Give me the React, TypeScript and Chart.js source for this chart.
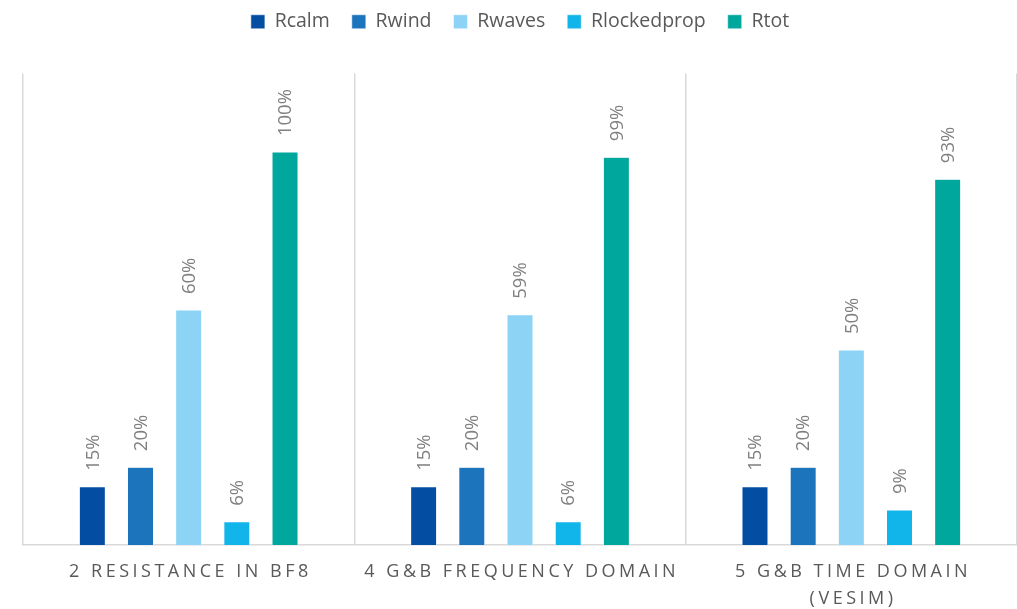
import React, { useEffect, useRef } from "react";
import { Chart, registerables } from "chart.js";

Chart.register(...registerables);

const categories = ["2 RESISTANCE IN BF8", "4 G&B FREQUENCY DOMAIN", "5 G&B TIME DOMAIN (VESIM)"];
const categoryLines = [["2 RESISTANCE IN BF8"], ["4 G&B FREQUENCY DOMAIN"], ["5 G&B TIME DOMAIN", "(VESIM)"]];
const seriesNames = ["Rcalm", "Rwind", "Rwaves", "Rlockedprop", "Rtot"];
const seriesColors = ["#034EA2", "#1C75BC", "#8DD3F5", "#12B5EA", "#00A79D"];
const rcalm = [14.8, 14.8, 14.8];
const rwind = [19.8, 19.8, 19.8];
const rwaves = [59.8, 58.6, 49.6];
const rlockedprop = [5.9, 5.9, 8.9];
const rtot = [100, 98.7, 93.1];
const seriesValues = [rcalm, rwind, rwaves, rlockedprop, rtot];

const FONT = "'Open Sans', 'DejaVu Sans', sans-serif";

const legendGapPlugin = {
  id: "legendGap",
  beforeInit(chart: any) {
    const legend = chart.legend;
    if (!legend) return;
    const orig = legend.fit;
    legend.fit = function () {
      orig.call(this);
      this.height += 32;
    };
  },
};

const valueLabelPlugin = {
  id: "valueLabels",
  afterDatasetsDraw(chart: any) {
    const ctx = chart.ctx;
    chart.data.datasets.forEach((ds: any, i: number) => {
      const meta = chart.getDatasetMeta(i);
      meta.data.forEach((bar: any, j: number) => {
        const v = ds.data[j];
        ctx.save();
        ctx.translate(bar.x, bar.y - 16);
        ctx.rotate(-Math.PI / 2);
        ctx.font = `18.5px ${FONT}`;
        ctx.fillStyle = "#808080";
        ctx.textAlign = "left";
        ctx.textBaseline = "middle";
        ctx.fillText(Math.round(v) + "%", 0, 1);
        ctx.restore();
      });
    });
  },
};

const xLabelPlugin = {
  id: "xLabels",
  afterDraw(chart: any) {
    const ctx = chart.ctx;
    const xs = chart.scales.x;
    const bottom = chart.chartArea.bottom;
    ctx.save();
    ctx.font = `18px ${FONT}`;
    ctx.fillStyle = "#595959";
    ctx.textAlign = "center";
    ctx.textBaseline = "middle";
    (ctx as any).letterSpacing = "3.5px";
    categoryLines.forEach((lines, i) => {
      const x = xs.getPixelForValue(i) + 1.75;
      lines.forEach((line, k) => {
        ctx.fillText(line, x, bottom + 27 + k * 27);
      });
    });
    ctx.restore();
  },
};

export default function App() {
  const ref = useRef<HTMLCanvasElement>(null);
  useEffect(() => {
    document.body.style.margin = "0";
    const chart = new Chart(ref.current!, {
      type: "bar",
      data: {
        labels: categories,
        datasets: seriesNames.map((name, i) => ({
          label: name,
          data: seriesValues[i],
          backgroundColor: seriesColors[i],
          borderColor: "#ffffff",
          borderWidth: 0.5,
          categoryPercentage: 0.727,
          barPercentage: 0.54,
        })),
      },
      options: {
        animation: false,
        responsive: false,
        maintainAspectRatio: false,
        layout: { padding: { left: 23, right: 0, top: -10, bottom: 64 } },
        plugins: {
          legend: {
            position: "top",
            labels: {
              boxWidth: 14,
              boxHeight: 14,
              padding: 22,
              color: "#595959",
              font: { family: FONT, size: 19.5 },
            },
          },
          tooltip: { enabled: false },
        },
        scales: {
          x: {
            ticks: { display: false },
            grid: { display: true, offset: true, color: "#d9d9d9", lineWidth: 1.5, drawTicks: false },
            border: { display: true, color: "#d9d9d9", width: 1.5 },
          },
          y: {
            display: false,
            min: 0,
            max: 120,
          },
        },
      },
      plugins: [legendGapPlugin, valueLabelPlugin, xLabelPlugin],
    });
    return () => chart.destroy();
  }, []);
  return (
    <div style={{ position: "absolute", left: 0, top: 0, width: 1017, height: 609 }}>
      <canvas ref={ref} width={1017} height={609} />
    </div>
  );
}
